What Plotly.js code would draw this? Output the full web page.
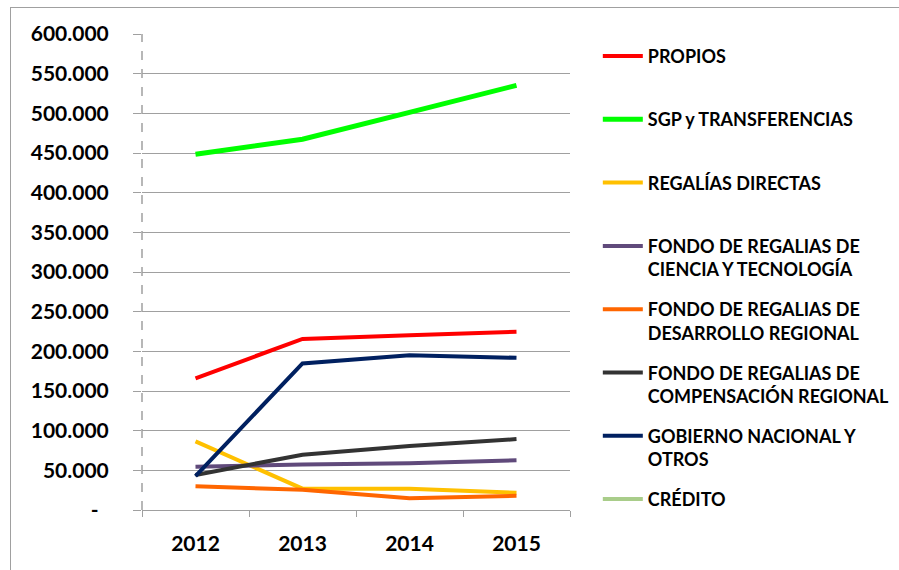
<!DOCTYPE html>
<html>
<head>
<meta charset="utf-8">
<script src="https://cdn.plot.ly/plotly-3.0.1.min.js"></script>
<style>
  html, body { margin: 0; padding: 0; background: #fff; }
  #wrap { position: relative; width: 899px; height: 570px; }
  #chart { position: absolute; left: 0; top: 0; width: 899px; height: 570px; }
  #frame { position: absolute; left: 10px; top: 7px; width: 900px; height: 580px;
           border-left: 1px solid #A0A0A0; border-top: 1px solid #A0A0A0; pointer-events: none; }
</style>
</head>
<body>
<div id="wrap">
  <div id="chart"></div>
  <div id="frame"></div>
</div>
<script>
// ---- data ----
const years = ['2012', '2013', '2014', '2015'];

const propios        = [166000, 215700, 220400, 224600];
const sgp            = [448400, 467300, 501300, 535300];
const regaliasDir    = [86500, 26900, 26900, 21800];
const fondoCyT       = [54500, 57500, 58800, 62600];
const fondoDR        = [29800, 25600, 14700, 18000];
const fondoCR        = [44100, 69700, 80600, 89400];
const gobierno       = [42800, 184700, 195200, 191800];
const credito        = [null, null, null, null];

const seriesNames = [
  'PROPIOS',
  'SGP y TRANSFERENCIAS',
  'REGALÍAS DIRECTAS',
  'FONDO DE REGALIAS DE<br>CIENCIA Y TECNOLOGÍA',
  'FONDO DE REGALIAS DE<br>DESARROLLO REGIONAL',
  'FONDO DE REGALIAS DE<br>COMPENSACIÓN REGIONAL',
  'GOBIERNO NACIONAL Y<br>OTROS',
  'CRÉDITO'
];
const seriesColors = ['#FF0000', '#00FF00', '#FFC000', '#604A7B', '#FF6600', '#333333', '#002060', '#A9CD8A'];
const seriesWidths = [4, 5, 4, 4, 4, 4, 4, 4];

const yTickVals = [0, 50000, 100000, 150000, 200000, 250000, 300000, 350000, 400000, 450000, 500000, 550000, 600000];
const yTickText = ['-\u00a0\u00a0', '50.000', '100.000', '150.000', '200.000', '250.000', '300.000', '350.000', '400.000', '450.000', '500.000', '550.000', '600.000'];

// ---- build ----
const allValues = [propios, sgp, regaliasDir, fondoCyT, fondoDR, fondoCR, gobierno, credito];
const FONT = 'Lato, "Liberation Sans", Arial, sans-serif';

const traces = allValues.map((vals, i) => ({
  type: 'scatter',
  mode: 'lines',
  x: years,
  y: vals,
  name: seriesNames[i] + (seriesNames[i].indexOf('<br>') < 0 ? '<br>\u00a0' : ''),
  legendgroup: 'g' + i,
  line: { color: seriesColors[i], width: seriesWidths[i] },
  hoverinfo: 'x+y+name'
}));

const layout = {
  width: 899,
  height: 570,
  margin: { l: 142, r: 329, t: 34, b: 60, autoexpand: false },
  paper_bgcolor: '#FFFFFF',
  plot_bgcolor: '#FFFFFF',
  font: { family: FONT, color: '#000000' },
  showlegend: true,
  legend: {
    x: 1.065, xanchor: 'left',
    y: 0.992, yanchor: 'top',
    valign: 'top',
    tracegroupgap: 13.5,
    itemwidth: 40,
    font: { family: FONT, size: 18, color: '#000000', weight: 'bold' },
    bgcolor: 'rgba(0,0,0,0)'
  },
  xaxis: {
    type: 'category',
    range: [-0.5, 3.5],
    tickson: 'boundaries',
    ticks: 'outside',
    ticklen: 6,
    tickcolor: '#A0A0A0',
    showline: true,
    linecolor: '#A0A0A0',
    linewidth: 1,
    showgrid: false,
    ticklabelstandoff: 15,
    tickfont: { family: FONT, size: 21, color: '#000000', weight: 'bold' },
    fixedrange: true
  },
  yaxis: {
    range: [0, 600000],
    tickmode: 'array',
    tickvals: yTickVals,
    ticktext: yTickText,
    ticks: 'outside',
    ticklen: 8,
    tickcolor: '#A0A0A0',
    showline: false,
    showgrid: true,
    gridcolor: '#A0A0A0',
    gridwidth: 1,
    zeroline: false,
    ticklabelstandoff: 20,
    tickfont: { family: FONT, size: 21, color: '#000000', weight: 'bold' },
    fixedrange: true
  },
  shapes: [{
    type: 'line', xref: 'paper', yref: 'paper',
    x0: 0, x1: 0, y0: 0, y1: 1,
    line: { color: '#A0A0A0', width: 1.5, dash: 'dash' },
    layer: 'above'
  }]
};

Plotly.newPlot('chart', traces, layout, { displayModeBar: false, staticPlot: true });
</script>
</body>
</html>
